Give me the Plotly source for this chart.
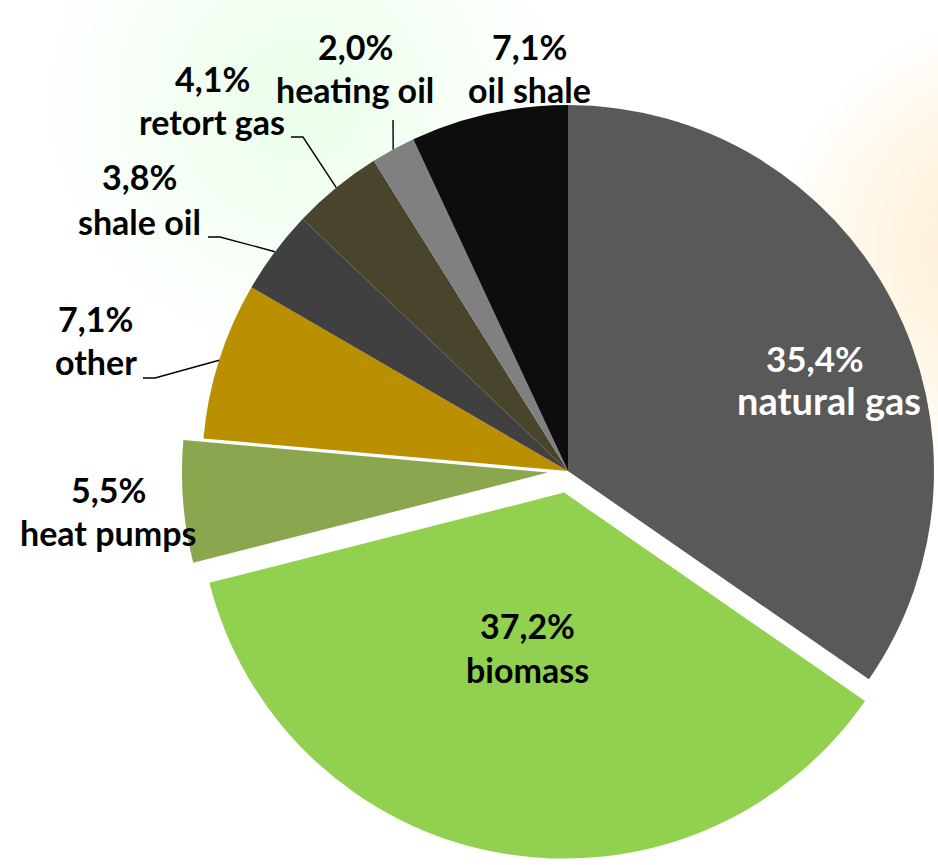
import math
import plotly.graph_objects as go

# ---------------- data ----------------
categories = ["natural gas", "biomass", "heat pumps", "other", "shale oil",
              "retort gas", "heating oil", "oil shale"]
shares = [35.4, 37.2, 5.5, 7.1, 3.8, 4.1, 2.0, 7.1]
colors = ["#595959", "#92D050", "#8AA64F", "#BA8F00", "#404040",
          "#4A442C", "#808080", "#0D0D0D"]
pulls = [0, 0.06, 0.055, 0, 0, 0, 0, 0]

# ---------------- layout geometry (pixels) ----------------
W, H = 938, 865
CX, CY, R = 568, 471, 366
FONT = "Lato"
FS = 34

# label anchors: (pct center x, pct baseline y, name center x, name baseline y)
label_pos = {
    "natural gas": (815, 372, 829, 415),
    "biomass": (527, 639, 527, 683),
    "heat pumps": (108, 503, 108, 546),
    "other": (95, 332, 96, 375),
    "shale oil": (139, 190, 139, 235),
    "retort gas": (212, 92, 212, 135),
    "heating oil": (355, 60, 355, 103),
    "oil shale": (529, 60, 529, 103),
}
label_color = {"natural gas": "white"}
label_size = {"natural gas": (35, 38)}
# leader line bends (pixels) after leaving the rim
leaders = {
    "retort gas": [(303, 137), (291, 137)],
    "shale oil": [(220, 237), (208, 237)],
    "other": [(155, 378), (143, 378)],
    "heating oil": [(393, 120)],
}


def px(x):
    return x / W


def py(y):
    return 1 - y / H


total = sum(shares)
mids = []
acc = 0
for v in shares:
    mids.append((acc + v / 2) / total * 360)
    acc += v


def domain_for(offx, offy):
    cx, cy = CX + offx, CY + offy
    return dict(x=[px(cx - R), px(cx + R)], y=[py(cy + R), py(cy - R)])


fig = go.Figure()

# base pie: all non-pulled slices
base_colors = [c if p == 0 else "rgba(0,0,0,0)" for c, p in zip(colors, pulls)]
fig.add_trace(go.Pie(
    labels=categories, values=shares, sort=False, direction="clockwise",
    rotation=0, marker=dict(colors=base_colors, line=dict(width=0)),
    textinfo="none", hoverinfo="label+percent", showlegend=False,
    domain=domain_for(0, 0)))

# exploded slices drawn as separate copies with shifted centers
for i, p in enumerate(pulls):
    if p == 0:
        continue
    th = math.radians(mids[i])
    offx = p * R * math.sin(th)
    offy = -p * R * math.cos(th)
    cols = ["rgba(0,0,0,0)"] * len(shares)
    cols[i] = colors[i]
    fig.add_trace(go.Pie(
        labels=categories, values=shares, sort=False, direction="clockwise",
        rotation=0, marker=dict(colors=cols, line=dict(width=0)),
        textinfo="none", hoverinfo="skip", showlegend=False,
        domain=domain_for(offx, offy)))

# labels
annotations = []
for name, v in zip(categories, shares):
    x1, b1, x2, b2 = label_pos[name]
    col = label_color.get(name, "black")
    s1, s2 = label_size.get(name, (FS, FS))
    pct = f"{v:.1f}".replace(".", ",") + "%"
    for txt, x, b, s in ((pct, x1, b1, s1), (name, x2, b2, s2)):
        annotations.append(dict(
            text=txt, x=px(x), y=py(b - 0.387 * s), xref="paper", yref="paper",
            xanchor="center", yanchor="middle", showarrow=False,
            font=dict(family=FONT, size=s, color=col, weight=700)))

shapes = []
# soft background tints
for k in range(18):
    rr = 260 - k * 13
    shapes.append(dict(type="circle", xref="paper", yref="paper", layer="below",
                       x0=px(300 - rr), x1=px(300 + rr), y0=py(100 + rr), y1=py(100 - rr),
                       fillcolor="rgba(185,220,170,0.013)", line=dict(width=0)))
for k in range(18):
    rr = 230 - k * 12
    shapes.append(dict(type="circle", xref="paper", yref="paper", layer="below",
                       x0=px(1010 - rr), x1=px(1010 + rr), y0=py(250 + rr), y1=py(250 - rr),
                       fillcolor="rgba(252,226,180,0.045)", line=dict(width=0)))

# leader lines from the slice rim
for name, pts in leaders.items():
    i = categories.index(name)
    th = math.radians(mids[i])
    rx = CX + R * math.sin(th)
    ry = CY - R * math.cos(th)
    path = f"M {px(rx)} {py(ry)}" + "".join(f" L {px(x)} {py(y)}" for x, y in pts)
    shapes.append(dict(type="path", xref="paper", yref="paper", path=path,
                       line=dict(color="black", width=1.4)))

fig.update_layout(
    width=W, height=H, margin=dict(l=0, r=0, t=0, b=0),
    paper_bgcolor="white", plot_bgcolor="white",
    annotations=annotations, shapes=shapes,
)

fig.write_html("out.html", config={"displayModeBar": False},
               post_script="document.body.style.margin='0';document.body.style.overflow='hidden';")
